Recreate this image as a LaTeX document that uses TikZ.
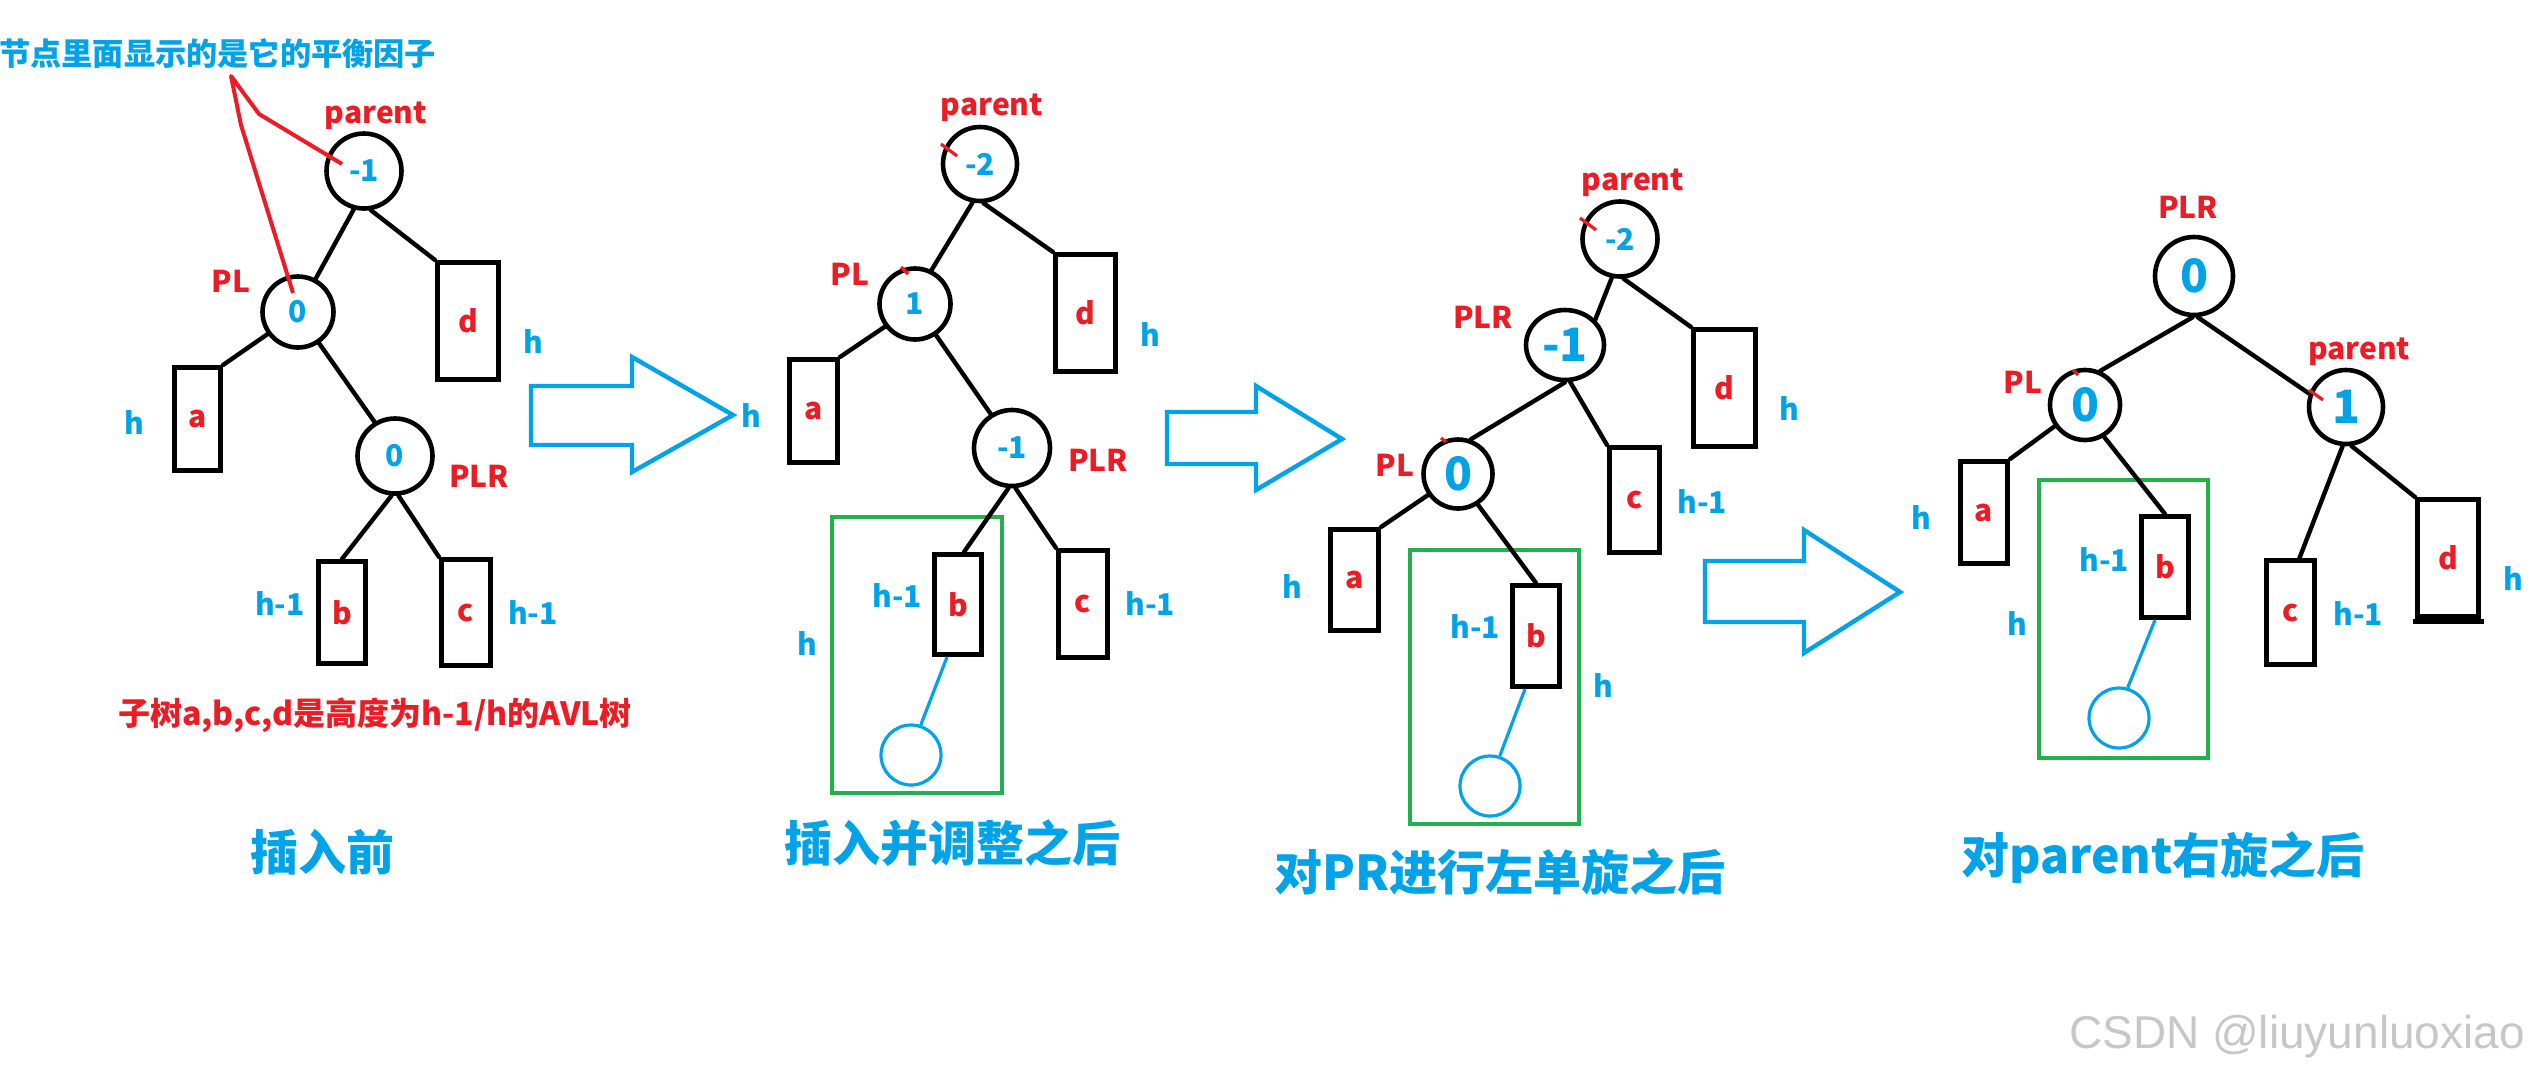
\documentclass[tikz,border=0pt]{standalone}
\usepackage{fontspec}
\setmainfont{Noto Sans CJK SC}
\newfontfamily\wmfont{Liberation Sans}
\usetikzlibrary{calc,shapes.geometric}
\definecolor{pblue}{RGB}{0,162,232}
\definecolor{pred}{RGB}{237,28,36}
\definecolor{pgreen}{RGB}{34,177,76}
\begin{document}
\begin{tikzpicture}[x=0.5pt,y=-0.5pt,
 bal/.style={circle,draw=black,line width=2.3pt,inner sep=0pt,text=pblue,font=\bfseries\fontsize{15pt}{15pt}\selectfont},
 bigtxt/.style={font=\bfseries\fontsize{23pt}{23pt}\selectfont},
 sub/.style={rectangle,draw=black,line width=2.5pt,inner sep=0pt,text=pred,font=\bfseries\fontsize{15pt}{15pt}\selectfont},
 rl/.style={text=pred,inner sep=0pt,font=\bfseries\fontsize{15pt}{15pt}\selectfont},
 bl/.style={text=pblue,inner sep=0pt,font=\bfseries\fontsize{15pt}{15pt}\selectfont},
 link/.style={draw=black,line width=2.2pt,line cap=round},
 ins/.style={circle,draw=pblue,line width=1.6pt,minimum size=30pt,inner sep=0pt},
 inslink/.style={draw=pblue,line width=1.6pt},
 grp/.style={draw=pgreen,line width=2pt},
 bigarrow/.style={draw=pblue,line width=2.2pt,fill=white,line join=miter},
 ttl/.style={text=pblue,inner sep=0pt,font=\bfseries\fontsize{24pt}{24pt}\selectfont},
 redline/.style={draw=pred,line width=2pt,line join=round},
 rtick/.style={draw=pred,line width=1.6pt}
]
\fill[white] (0,0) rectangle (2532,1078);
\useasboundingbox (0,0) rectangle (2532,1078);

% ---------------- Panel 1 ----------------
\node[bal,minimum size=37.5pt] (P1) at (364,171) {-1\hspace{8pt}};
\node[bal,minimum size=35.5pt] (PL1) at (298,312) {0};
\node[bal,minimum size=37.5pt] (PLR1) at (395,456) {0};
\node[sub,minimum width=23pt,minimum height=51.5pt] (a1) at (197.5,419) {a};
\node[sub,minimum width=30.5pt,minimum height=58.5pt] (d1) at (468,321) {d};
\node[sub,minimum width=23.5pt,minimum height=51pt] (b1) at (342,612.5) {b};
\node[sub,minimum width=24.5pt,minimum height=53pt] (c1) at (466,612.5) {c};
\draw[link] (P1.-105) -- (PL1.62);
\draw[link] (P1.-80) -- (d1.north west);
\draw[link] (PL1.-144) -- (a1.north east);
\draw[link] (PL1.-56) -- (PLR1.121);
\draw[link] (PLR1.-95) -- (b1.north);
\draw[link] (PLR1.-85) -- (c1.north west);
\node[rl] (t1parent) at (376,116) {parent};
\node[rl] (t1pl) at (231,281) {PL};
\node[rl] (t1plr) at (479,476) {PLR};
\node[bl] (h1d) at (533,342) {h};
\node[bl] (h1a) at (134,423) {h};
\node[bl] (h1b) at (280,603) {h-1};
\node[bl] (h1c) at (533,612) {h-1};
\node[text=pblue,inner sep=0pt,anchor=west,font=\bfseries\fontsize{15.6pt}{15.6pt}\selectfont] (note) at (-1,54) {节点里面显示的是它的平衡因子};
\coordinate (apex) at (231,76);
\coordinate (k1) at (241,125);
\coordinate (k2) at (259,114);
\draw[redline] ($(PL1)+(-5,-19)$) -- (k1) -- (apex) -- (k2) -- ($(P1)+(-22,-7)$);
\node[text=pred,inner sep=0pt,font=\bfseries\fontsize{16pt}{16pt}\selectfont] (cap1) at (375,715) {子树a,b,c,d是高度为h-1/h的AVL树};
\node[ttl] (title1) at (322,852) {插入前};
\draw[bigarrow] (531,386) -- (632,386) -- (632,357) -- (733,415) -- (632,472) -- (632,445) -- (531,445) -- cycle;

% ---------------- Panel 2 ----------------
\node[bal,minimum size=37pt] (P2) at (980,164) {-2\hspace{3pt}};
\node[bal,minimum size=35.5pt] (PL2) at (915,304) {1};
\node[bal,minimum size=38pt] (PLR2) at (1012,448) {-1\hspace{6pt}};
\node[sub,minimum width=24pt,minimum height=51.5pt] (a2) at (813.5,411) {a};
\node[sub,minimum width=30pt,minimum height=58.5pt] (d2) at (1085.5,313) {d};
\node[sub,minimum width=23.5pt,minimum height=50pt] (b2) at (958,604.5) {b};
\node[sub,minimum width=24.5pt,minimum height=53.5pt] (c2) at (1083,604) {c};
\draw[grp] (832,517) rectangle (1002,793);
\node[ins] (n2) at (911,755) {};
\draw[link] (P2.-101) -- (PL2.64);
\draw[link] (P2.-85) -- (d2.north west);
\draw[link] (PL2.-143) -- (a2.north east);
\draw[link] (PL2.-56) -- (PLR2.122);
\draw[link] (PLR2.-95) -- ($(b2.north)+(6,0)$);
\draw[link] (PLR2.-85) -- (c2.north west);
\draw[inslink] ($(b2.south)+(-11,0)$) -- (n2.72);
\node[rl] (t2parent) at (992,108) {parent};
\node[rl] (t2pl) at (850,274) {PL};
\node[rl] (t2plr) at (1098,460) {PLR};
\node[bl] (h2d) at (1150,335) {h};
\node[bl] (h2a) at (751,416) {h};
\node[bl] (h2b) at (897,595) {h-1};
\node[bl] (h2g) at (807,643) {h};
\node[bl] (h2c) at (1150,603) {h-1};
\draw[rtick] (941,144) -- (957,156);
\draw[rtick] (901,267) -- (908,274);
\node[ttl] (title2) at (952,843) {插入并调整之后};
\draw[bigarrow] (1167,412) -- (1256,412) -- (1256,386) -- (1342,439) -- (1256,490) -- (1256,464) -- (1167,464) -- cycle;

% ---------------- Panel 3 ----------------
\node[bal,minimum size=37.5pt] (P3) at (1620,239) {-2};
\node[ellipse,draw=black,line width=2.3pt,inner sep=0pt,text=pblue,bigtxt,minimum width=39pt,minimum height=35pt] (PLR3) at (1565,345) {-1\hspace{4pt}};
\node[bal,bigtxt,minimum size=34.5pt] (PL3) at (1458,474) {0};
\node[sub,minimum width=31pt,minimum height=58.5pt] (d3) at (1724.5,388) {d};
\node[sub,minimum width=25pt,minimum height=52.5pt] (c3) at (1634.5,500) {c};
\node[sub,minimum width=24pt,minimum height=50.5pt] (a3) at (1354.5,580) {a};
\node[sub,minimum width=23.5pt,minimum height=50.5pt] (b3) at (1536,636) {b};
\draw[grp] (1410,550) rectangle (1579,824);
\node[ins] (n3) at (1490,786) {};
\draw[link] (P3.-102) -- (PLR3.40);
\draw[link] (P3.-85) -- (d3.north west);
\draw[link] (PLR3.-90) -- (PL3.70);
\draw[link] (PLR3.-82) -- (c3.north west);
\draw[link] (PL3.-145) -- (a3.north east);
\draw[link] (PL3.-57) -- (b3.north);
\draw[inslink] ($(b3.south)+(-11,0)$) -- (n3.72);
\node[rl] (t3parent) at (1633,183) {parent};
\node[rl] (t3plr) at (1483,317) {PLR};
\node[rl] (t3pl) at (1395,465) {PL};
\node[bl] (h3d) at (1789,409) {h};
\node[bl] (h3c) at (1702,501) {h-1};
\node[bl] (h3a) at (1292,586) {h};
\node[bl] (h3b) at (1475,626) {h-1};
\node[bl] (h3g) at (1603,685) {h};
\draw[rtick] (1580,218) -- (1596,230);
\draw[rtick] (1441,438) -- (1446,442);
\node[ttl] (title3) at (1500,872) {对PR进行左单旋之后};
\draw[bigarrow] (1705,561) -- (1804,561) -- (1804,530) -- (1900,592) -- (1804,653) -- (1804,622) -- (1705,622) -- cycle;

% ---------------- Panel 4 ----------------
\node[bal,bigtxt,minimum size=39pt] (R4) at (2194,276) {0};
\node[bal,bigtxt,minimum size=35pt] (PL4) at (2085,405) {0};
\node[bal,bigtxt,minimum size=37pt] (P4) at (2346,407) {1};
\node[sub,minimum width=23.5pt,minimum height=51pt] (a4) at (1984,512.5) {a};
\node[sub,minimum width=23.5pt,minimum height=50.5pt] (b4) at (2165,567) {b};
\node[sub,minimum width=24pt,minimum height=52pt] (c4) at (2290.5,612.5) {c};
\node[sub,minimum width=30.5pt,minimum height=58.5pt] (d4) at (2448,558) {d};
\draw[line width=2.5pt] ($(d4.south west)+(-2.5,2)$) -- ($(d4.south east)+(2.5,2)$);
\draw[grp] (2039,480) rectangle (2208,758);
\node[ins] (n4) at (2119,718) {};
\draw[link] (R4.-92) -- (PL4.66);
\draw[link] (R4.-85) -- (P4.160);
\draw[link] (PL4.-145) -- (a4.north east);
\draw[link] (PL4.-59) -- (b4.north);
\draw[link] (P4.-95) -- ($(c4.north)+(9,0)$);
\draw[link] (P4.-82) -- (d4.north west);
\draw[inslink] ($(b4.south)+(-10,0)$) -- (n4.74);
\node[rl] (t4plr) at (2188,207) {PLR};
\node[rl] (t4pl) at (2023,382) {PL};
\node[rl] (t4parent) at (2359,352) {parent};
\node[bl] (h4a) at (1921,517) {h};
\node[bl] (h4b) at (2104,559) {h-1};
\node[bl] (h4g) at (2017,623) {h};
\node[bl] (h4c) at (2358,613) {h-1};
\node[bl] (h4d) at (2513,578) {h};
\draw[rtick] (2073,370) -- (2078,375);
\draw[rtick] (2309,390) -- (2323,400);
\node[ttl] (title4) at (2163,858) {对parent右旋之后};

% watermark
\node[text=black!22,inner sep=0pt,font=\wmfont\fontsize{23pt}{23pt}\selectfont] (wm) at (2297,1037) {CSDN @liuyunluoxiao};
\end{tikzpicture}
\end{document}
